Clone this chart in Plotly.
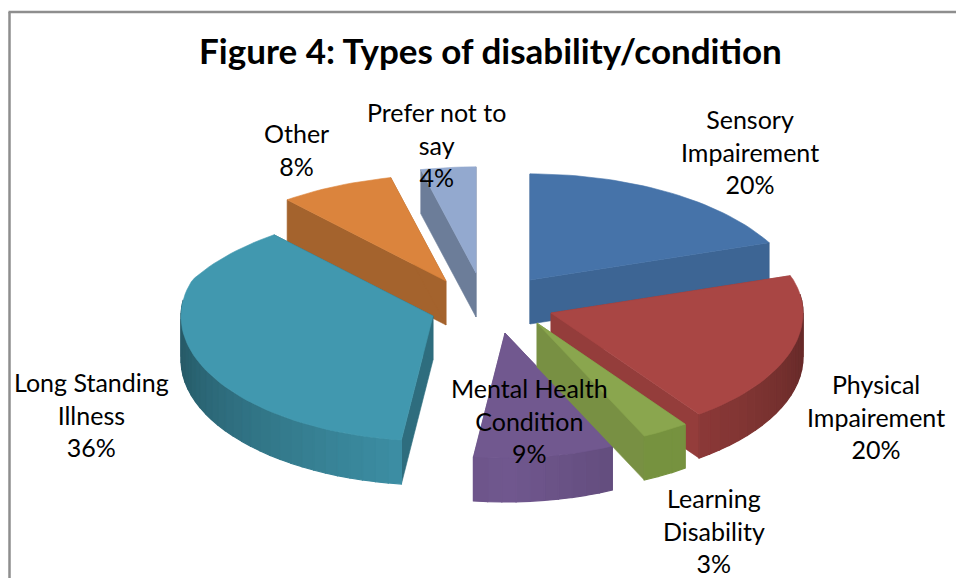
import math
import plotly.graph_objects as go

categories = ["Sensory<br>Impairement", "Physical<br>Impairement", "Learning<br>Disability",
              "Mental Health<br>Condition", "Long Standing<br>Illness", "Other", "Prefer not to<br>say"]
values = [20, 20, 3, 9, 36, 8, 4]
title_text = "Figure 4: Types of disability/condition"

# styling / layout (not data)
TOP = ["#4673A9", "#A94644", "#8AA64E", "#71588F", "#4198AF", "#DB843D", "#93A9CF"]
WALL = ["#3E6492", "#A84543", "#76923F", "#71588F", "#3F94AA", "#A5632C", "#6C7D99"]
RADIAL_F = [0.88, 0.88, 0.87, 0.88, 0.72, 0.75, 0.74]
PULL = [(38, -26), (59, 7), (45, 17), (13, 27), (-59, 10), (-46, -25), (-16, -33)]
LABEL_POS = [(750, 151.5), (876, 416.5), (714, 530), (529, 420.5), (91, 414), (296, 149.5), (436, 144)]
CX, CY, RX, RY_BACK, RY_FRONT, K, DEPTH = 492, 306, 252, 121, 125, 0.2, 44
DRAW_ORDER = [0, 6, 5, 4, 3, 1, 2]
FONT = "Lato"


def rgb(hexc, f=1.0):
    return "rgb(%d,%d,%d)" % tuple(min(255, int(int(hexc[i:i + 2], 16) * f)) for i in (1, 3, 5))


def rim(apex, deg):
    t = math.radians(deg)
    c = math.cos(t)
    s = 1 / (1 + K * max(c - 0.3, 0))
    ry = RY_BACK if c > 0 else RY_FRONT
    return apex[0] + RX * math.sin(t) * s, apex[1] - ry * c * s


def poly(fig, pts, color, w=0.6):
    fig.add_trace(go.Scatter(x=[p[0] for p in pts] + [pts[0][0]], y=[p[1] for p in pts] + [pts[0][1]],
                             mode="lines", fill="toself", fillcolor=color,
                             line=dict(color=color, width=w), hoverinfo="skip", showlegend=False))


total = sum(values)
bounds = [0]
for v in values:
    bounds.append(bounds[-1] + v / total * 360)

fig = go.Figure()
for i in DRAW_ORDER:
    a0, a1 = bounds[i], bounds[i + 1]
    apex = (CX + PULL[i][0], CY + PULL[i][1])
    down = lambda p: (p[0], p[1] + DEPTH)
    # radial walls
    for ang in (a0, a1):
        p = rim(apex, ang)
        poly(fig, [apex, p, down(p), down(apex)], rgb(TOP[i], RADIAL_F[i]))
    # outer curved wall, shaded by angle
    n = max(2, int((a1 - a0) / 3))
    for k in range(n):
        u0 = a0 + (a1 - a0) * k / n
        u1 = a0 + (a1 - a0) * (k + 1) / n
        m = (u0 + u1) / 2
        if math.cos(math.radians(m)) > 0.15:
            continue
        f = max(0.62, 1 - abs(m - 180) / 90 * 0.42)
        if i == 0:
            f = 0.88
        if i == 2:
            f = 1.0
        p0, p1 = rim(apex, u0), rim(apex, u1)
        poly(fig, [p0, p1, down(p1), down(p0)], rgb(WALL[i], f), 1.2)
    # top surface
    m = max(8, int((a1 - a0) / 2))
    poly(fig, [apex] + [rim(apex, a0 + (a1 - a0) * k / m) for k in range(m + 1)], TOP[i])

annotations = [dict(x=x, y=y, xref="x", yref="y", showarrow=False, align="center",
                    text="%s<br>%d%%" % (c, v), font=dict(family=FONT, size=25, color="#000000"))
               for c, v, (x, y) in zip(categories, values, LABEL_POS)]
annotations.append(dict(x=490, y=50, xref="x", yref="y", showarrow=False, text="<b>%s</b>" % title_text,
                        font=dict(family=FONT, size=35, color="#000000")))

shapes = [dict(type="line", xref="x", yref="y", x0=9.5, y0=12, x1=9.5, y1=578, line=dict(color="#8E8E8E", width=2.5)),
          dict(type="line", xref="x", yref="y", x0=8.5, y0=12, x1=956, y1=12, line=dict(color="#8E8E8E", width=2.5))]

fig.update_layout(width=956, height=578, margin=dict(l=0, r=0, t=0, b=0),
                  paper_bgcolor="white", plot_bgcolor="white", showlegend=False,
                  xaxis=dict(range=[0, 956], visible=False, fixedrange=True),
                  yaxis=dict(range=[578, 0], visible=False, fixedrange=True),
                  annotations=annotations, shapes=shapes)
fig.write_html("out.html", post_script="document.body.style.margin='0';",
               config=dict(displayModeBar=False))
